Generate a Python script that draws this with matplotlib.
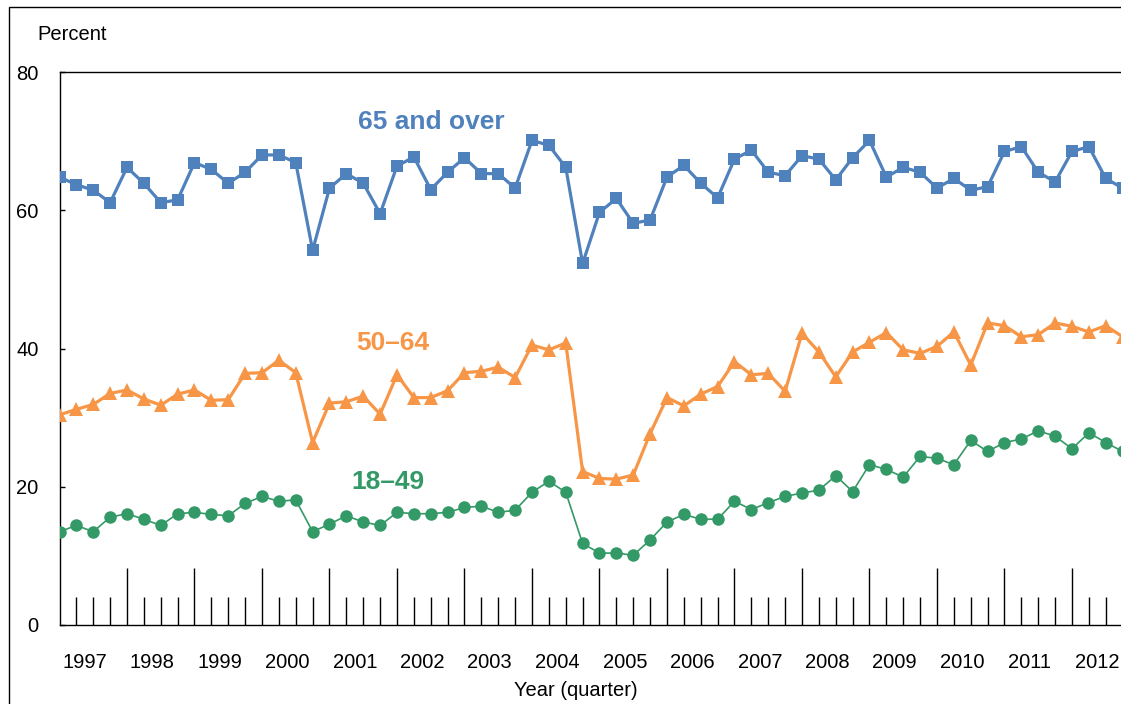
import matplotlib
matplotlib.use("Agg")
import matplotlib.pyplot
import matplotlib.patches
import matplotlib.transforms
import numpy

matplotlib.pyplot.rcParams["font.family"] = ["Liberation Sans", "DejaVu Sans"]

# quarterly values, 1997 Q1 .. 2012 Q4
years = ["1997", "1998", "1999", "2000", "2001", "2002", "2003", "2004",
	"2005", "2006", "2007", "2008", "2009", "2010", "2011", "2012"]

age_65_over = [
	64.8, 63.7, 62.9, 61.1, 66.2, 63.9, 61.1, 61.5,
	66.9, 65.9, 63.9, 65.5, 68.0, 68.0, 66.9, 54.2,
	63.2, 65.3, 63.9, 59.5, 66.4, 67.7, 63.0, 65.5,
	67.6, 65.3, 65.3, 63.2, 70.1, 69.4, 66.2, 52.3,
	59.7, 61.7, 58.1, 58.6, 64.8, 66.5, 63.9, 61.8,
	67.4, 68.7, 65.5, 65.0, 67.9, 67.4, 64.4, 67.6,
	70.1, 64.8, 66.2, 65.5, 63.2, 64.6, 62.9, 63.4,
	68.5, 69.2, 65.5, 64.1, 68.5, 69.2, 64.6, 63.2,
]

age_50_64 = [
	30.4, 31.2, 31.9, 33.5, 34.0, 32.7, 31.8, 33.4,
	34.0, 32.5, 32.6, 36.4, 36.5, 38.3, 36.5, 26.4,
	32.1, 32.3, 33.1, 30.5, 36.2, 32.9, 32.9, 33.9,
	36.5, 36.7, 37.3, 35.8, 40.5, 39.8, 40.8, 22.2,
	21.2, 21.1, 21.7, 27.7, 32.9, 31.7, 33.4, 34.5,
	38.1, 36.2, 36.4, 33.8, 42.2, 39.5, 35.9, 39.5,
	40.9, 42.3, 39.8, 39.3, 40.3, 42.4, 37.6, 43.7,
	43.3, 41.7, 42.0, 43.7, 43.2, 42.4, 43.3, 41.7,
]

age_18_49 = [
	13.5, 14.4, 13.5, 15.6, 16.1, 15.3, 14.4, 16.1,
	16.3, 16.0, 15.8, 17.6, 18.6, 17.9, 18.1, 13.5,
	14.6, 15.8, 14.9, 14.4, 16.3, 16.1, 16.1, 16.3,
	17.0, 17.2, 16.3, 16.6, 19.2, 20.8, 19.2, 11.8,
	10.4, 10.4, 10.1, 12.3, 14.9, 16.0, 15.3, 15.3,
	17.9, 16.7, 17.7, 18.6, 19.1, 19.5, 21.6, 19.3,
	23.2, 22.5, 21.4, 24.4, 24.1, 23.2, 26.7, 25.1,
	26.4, 26.9, 28.1, 27.3, 25.5, 27.8, 26.4, 25.1,
]

series_names = ["65 and over", "50\u201364", "18\u201349"]

BLUE = "#4F81BD"
ORANGE = "#F79646"
GREEN = "#339966"


def main():
	width_px, height_px = 1121, 704
	figure = matplotlib.pyplot.figure(figsize=(width_px / 100, height_px / 100), dpi=100)

	step = 16.875
	x_max = 66
	left = 59.5 / width_px
	bottom = (height_px - 625) / height_px
	axes = figure.add_axes([left, bottom, x_max * step / width_px, 553 / height_px])

	x = numpy.arange(len(age_65_over))
	axes.plot(x, age_65_over, color=BLUE, linewidth=2.3, marker="s", markersize=9,
		markeredgewidth=0, zorder=3)
	axes.plot(x, age_50_64, color=ORANGE, linewidth=2.3, marker="^", markersize=10.5,
		markeredgewidth=0, zorder=3)
	axes.plot(x, age_18_49, color=GREEN, linewidth=1.2, marker="o", markersize=9,
		markeredgewidth=0, zorder=3)

	axes.set_xlim(0, x_max)
	axes.set_ylim(0, 80)

	for side in ["top", "left", "bottom", "right"]:
		axes.spines[side].set_linewidth(1.0)
		axes.spines[side].set_color("black")

	axes.set_yticks([0, 20, 40, 60, 80])
	axes.tick_params(axis="y", direction="in", length=3.6, width=1.0, pad=15,
		labelsize=14.5, colors="black")

	axes.set_xticks(range(4, len(x), 4))
	axes.set_xticks([i for i in range(1, len(x)) if i % 4], minor=True)
	axes.tick_params(axis="x", which="major", direction="in", length=41, width=1.0,
		labelbottom=False)
	axes.tick_params(axis="x", which="minor", direction="in", length=20, width=1.0,
		labelbottom=False)

	blend = matplotlib.transforms.blended_transform_factory(axes.transData, axes.transAxes)
	for k, year in enumerate(years):
		axes.text(4 * k + 1.5, -0.067, year, transform=blend, ha="center", va="center",
			fontsize=14.5, clip_on=False)

	axes.text(17.7, 72.8, series_names[0], color=BLUE, fontsize=19, fontweight="bold",
		ha="left", va="center")
	axes.text(17.6, 40.8, series_names[1], color=ORANGE, fontsize=19, fontweight="bold",
		ha="left", va="center")
	axes.text(17.3, 20.7, series_names[2], color=GREEN, fontsize=19, fontweight="bold",
		ha="left", va="center")

	figure.text(37 / width_px, 1 - 35 / height_px, "Percent", fontsize=14.5,
		ha="left", va="center")
	figure.text(576 / width_px, 1 - 690 / height_px, "Year (quarter)", fontsize=14.5,
		ha="center", va="center")

	# outer chart border, cut by the picture edge on the right and bottom
	border = matplotlib.patches.Rectangle((9 / width_px, -0.2), 1.2, 1.2 - 7 / height_px,
		transform=figure.transFigure, fill=False, edgecolor="black", linewidth=1.0)
	figure.add_artist(border)

	figure.savefig("out.png", dpi=100)


if __name__ == "__main__":
	main()
